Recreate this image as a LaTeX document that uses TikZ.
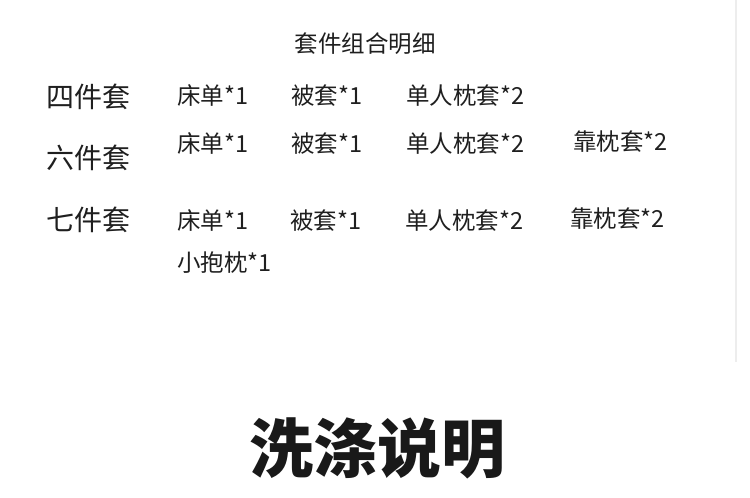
\documentclass[tikz,border=0pt]{standalone}
\usepackage{fontspec}
\setmainfont{Noto Sans CJK SC}
\begin{document}
\begin{tikzpicture}[x=1pt, y=-1pt, every node/.style={inner sep=0pt}]
		\tikzstyle{item}=[anchor=west, font=\fontsize{23.5}{26}\selectfont, text=black!88]
		\tikzstyle{kind}=[anchor=west, font=\fontsize{28}{30}\selectfont, text=black!88]
		\useasboundingbox[fill=white] (0,0) rectangle (750,498);
		\coordinate (lt) at (736,0);
		\coordinate (lb) at (736,362);
		\draw[line width=2pt, black!7] (lt) -- (lb);
		\node[font=\fontsize{23.5}{26}\selectfont, text=black!88](title)at(365,44){套件组合明细};
		\node[kind](four)at(46,97){四件套};
		\node[kind](six)at(46,158){六件套};
		\node[kind](seven)at(46,220){七件套};
		\node[item](f1)at(177,96){床单*1};
		\node[item](f2)at(291,96){被套*1};
		\node[item](f3)at(406,96){单人枕套*2};
		\node[item](s1)at(177,144){床单*1};
		\node[item](s2)at(291,144){被套*1};
		\node[item](s3)at(406,144){单人枕套*2};
		\node[item](s4)at(573,142){靠枕套*2};
		\node[item](v1)at(177,221){床单*1};
		\node[item](v2)at(290,221){被套*1};
		\node[item](v3)at(405,221){单人枕套*2};
		\node[item](v4)at(570,219){靠枕套*2};
		\node[item](v5)at(177,263){小抱枕*1};
		\node[font=\fontsize{64}{70}\bfseries\selectfont, text=black!90](wash)at(377,448){洗涤说明};
		\end{tikzpicture}
\end{document}
